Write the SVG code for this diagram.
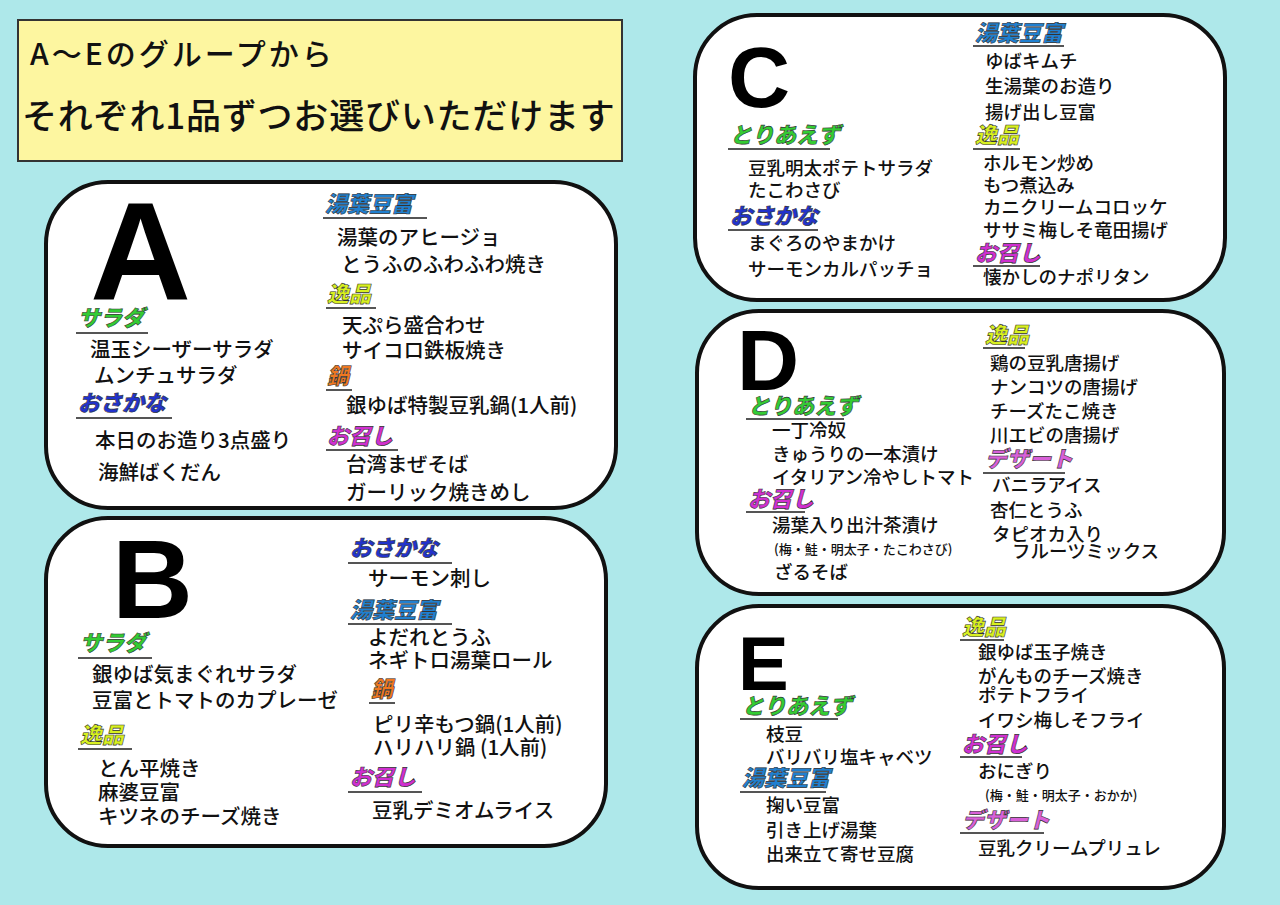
<svg xmlns="http://www.w3.org/2000/svg" width="1280" height="905" viewBox="0 0 1280 905">
<style>
text{font-family:"Noto Sans CJK JP","Noto Sans",sans-serif;fill:#111}
.box{fill:#fff;stroke:#111;stroke-width:4}
.big{font-family:"Liberation Sans",sans-serif;font-weight:bold;fill:#000}
.i{font-size:20.5px;font-weight:500}
.s{font-size:18.5px;font-weight:500}
.xs{font-size:13px;font-weight:500}
.h{font-size:22px;font-weight:900;font-style:italic;stroke:#333;stroke-width:0.6}
.sal{fill:#33cc33}.fish{fill:#2233cc}.yuba{fill:#2080d0}.ipp{fill:#d8f020}.nabe{fill:#f07820}.mesh{fill:#d030d0}.des{fill:#d860d8}
.u{stroke:#555;stroke-width:2}
</style>
<rect width="1280" height="905" fill="#aee8ea"/>
<g id="title">
<rect x="18" y="20" width="604" height="141" fill="#fdf6a0" stroke="#333" stroke-width="2"/>
<text x="30" y="65" font-size="30" font-weight="500" letter-spacing="3">A～Eのグループから</text>
<text x="22" y="129" font-size="35" font-weight="500" letter-spacing="0.8">それぞれ1品ずつお選びいただけます</text>
</g>
<g id="A">
<rect class="box" x="46" y="182" width="570" height="326" rx="62"/>
<text class="big" x="90" y="300" font-size="140">A</text>
<text class="h yuba" x="325" y="212">湯葉豆富</text><line class="u" x1="323" y1="218" x2="427" y2="218"/>
<text class="i" x="337" y="245">湯葉のアヒージョ</text>
<text class="i" x="341" y="272">とうふのふわふわ焼き</text>
<text class="h ipp" x="327" y="302">逸品</text><line class="u" x1="326" y1="308" x2="376" y2="308"/>
<text class="i" x="342" y="333">天ぷら盛合わせ</text>
<text class="i" x="342" y="358">サイコロ鉄板焼き</text>
<text class="h nabe" x="327" y="384">鍋</text><line class="u" x1="326" y1="390" x2="352" y2="390"/>
<text class="i" x="346" y="413">銀ゆば特製豆乳鍋(1人前)</text>
<text class="h mesh" x="327" y="444">お召し</text><line class="u" x1="326" y1="450" x2="398" y2="450"/>
<text class="i" x="346" y="472">台湾まぜそば</text>
<text class="i" x="346" y="500">ガーリック焼きめし</text>
<text class="h sal" x="78" y="326">サラダ</text><line class="u" x1="76" y1="333" x2="148" y2="333"/>
<text class="i" x="90" y="357">温玉シーザーサラダ</text>
<text class="i" x="94" y="383">ムンチュサラダ</text>
<text class="h fish" x="78" y="411">おさかな</text><line class="u" x1="76" y1="418" x2="172" y2="418"/>
<text class="i" x="95" y="448">本日のお造り3点盛り</text>
<text class="i" x="98" y="480">海鮮ばくだん</text>
</g>
<g id="B">
<rect class="box" x="46" y="518" width="560" height="328" rx="62"/>
<text class="big" x="112" y="618" font-size="112">B</text>
<text class="h fish" x="350" y="556">おさかな</text><line class="u" x1="348" y1="563" x2="452" y2="563"/>
<text class="i" x="368" y="586">サーモン刺し</text>
<text class="h yuba" x="350" y="618">湯葉豆富</text><line class="u" x1="348" y1="624" x2="452" y2="624"/>
<text class="i" x="368" y="645">よだれとうふ</text>
<text class="i" x="368" y="668">ネギトロ湯葉ロール</text>
<text class="h nabe" x="371" y="697">鍋</text><line class="u" x1="369" y1="703" x2="395" y2="703"/>
<text class="i" x="373" y="732">ピリ辛もつ鍋(1人前)</text>
<text class="i" x="373" y="755">ハリハリ鍋 (1人前)</text>
<text class="h mesh" x="350" y="785">お召し</text><line class="u" x1="348" y1="792" x2="422" y2="792"/>
<text class="i" x="372" y="818">豆乳デミオムライス</text>
<text class="h sal" x="80" y="651">サラダ</text><line class="u" x1="78" y1="658" x2="152" y2="658"/>
<text class="i" x="92" y="682">銀ゆば気まぐれサラダ</text>
<text class="i" x="92" y="708">豆富とトマトのカプレーゼ</text>
<text class="h ipp" x="80" y="743">逸品</text><line class="u" x1="78" y1="749" x2="132" y2="749"/>
<text class="i" x="98" y="776">とん平焼き</text>
<text class="i" x="98" y="800">麻婆豆富</text>
<text class="i" x="98" y="824">キツネのチーズ焼き</text>
</g>
<g id="C">
<rect class="box" x="695" y="15" width="530" height="285" rx="62"/>
<text class="big" x="728" y="107" font-size="86">C</text>
<text class="h yuba" x="975" y="41" font-size="19">湯葉豆富</text><line class="u" x1="973" y1="46" x2="1064" y2="46"/>
<text class="s" x="985" y="68">ゆばキムチ</text>
<text class="s" x="985" y="93">生湯葉のお造り</text>
<text class="s" x="985" y="119">揚げ出し豆富</text>
<text class="h ipp" x="975" y="143" font-size="19">逸品</text><line class="u" x1="973" y1="149" x2="1020" y2="149"/>
<text class="s" x="983" y="170">ホルモン炒め</text>
<text class="s" x="983" y="192">もつ煮込み</text>
<text class="s" x="983" y="214">カニクリームコロッケ</text>
<text class="s" x="983" y="237">ササミ梅しそ竜田揚げ</text>
<text class="h mesh" x="975" y="261" font-size="19">お召し</text><line class="u" x1="973" y1="266" x2="1040" y2="266"/>
<text class="s" x="983" y="284">懐かしのナポリタン</text>
<text class="h sal" x="730" y="143" font-size="19">とりあえず</text><line class="u" x1="728" y1="149" x2="830" y2="149"/>
<text class="s" x="748" y="175">豆乳明太ポテトサラダ</text>
<text class="s" x="748" y="197">たこわさび</text>
<text class="h fish" x="730" y="224" font-size="19">おさかな</text><line class="u" x1="728" y1="230" x2="818" y2="230"/>
<text class="s" x="748" y="250">まぐろのやまかけ</text>
<text class="s" x="748" y="276">サーモンカルパッチョ</text>
</g>
<g id="D">
<rect class="box" x="697" y="311" width="527" height="283" rx="62"/>
<text class="big" x="737" y="390" font-size="86">D</text>
<text class="h ipp" x="985" y="343" font-size="19">逸品</text><line class="u" x1="983" y1="348" x2="1025" y2="348"/>
<text class="s" x="990" y="370">鶏の豆乳唐揚げ</text>
<text class="s" x="990" y="394">ナンコツの唐揚げ</text>
<text class="s" x="990" y="418">チーズたこ焼き</text>
<text class="s" x="990" y="442">川エビの唐揚げ</text>
<text class="h des" x="985" y="467" font-size="19">デザート</text><line class="u" x1="983" y1="473" x2="1065" y2="473"/>
<text class="s" x="992" y="492">バニラアイス</text>
<text class="s" x="990" y="517">杏仁とうふ</text>
<text class="s" x="992" y="541">タピオカ入り</text>
<text class="s" x="1012" y="558">フルーツミックス</text>
<text class="h sal" x="748" y="414" font-size="19">とりあえず</text><line class="u" x1="746" y1="419" x2="844" y2="419"/>
<text class="s" x="772" y="437">一丁冷奴</text>
<text class="s" x="772" y="461">きゅうりの一本漬け</text>
<text class="s" x="772" y="484">イタリアン冷やしトマト</text>
<text class="h mesh" x="748" y="507" font-size="19">お召し</text><line class="u" x1="746" y1="512" x2="805" y2="512"/>
<text class="s" x="772" y="532">湯葉入り出汁茶漬け</text>
<text class="xs" x="774" y="554">(梅・鮭・明太子・たこわさび)</text>
<text class="s" x="774" y="579">ざるそば</text>
</g>
<g id="E">
<rect class="box" x="697" y="606" width="527" height="282" rx="62"/>
<text class="big" x="738" y="690" font-size="76">E</text>
<text class="h ipp" x="962" y="635" font-size="19">逸品</text><line class="u" x1="960" y1="640" x2="1004" y2="640"/>
<text class="s" x="978" y="659">銀ゆば玉子焼き</text>
<text class="s" x="978" y="683">がんものチーズ焼き</text>
<text class="s" x="978" y="702">ポテトフライ</text>
<text class="s" x="978" y="727">イワシ梅しそフライ</text>
<text class="h mesh" x="962" y="752" font-size="19">お召し</text><line class="u" x1="960" y1="757" x2="1022" y2="757"/>
<text class="s" x="978" y="778">おにぎり</text>
<text class="xs" x="985" y="800">(梅・鮭・明太子・おかか)</text>
<text class="h des" x="962" y="828" font-size="19">デザート</text><line class="u" x1="960" y1="833" x2="1044" y2="833"/>
<text class="s" x="978" y="855">豆乳クリームプリュレ</text>
<text class="h sal" x="742" y="714" font-size="19">とりあえず</text><line class="u" x1="740" y1="719" x2="838" y2="719"/>
<text class="s" x="766" y="741">枝豆</text>
<text class="s" x="766" y="764">バリバリ塩キャベツ</text>
<text class="h yuba" x="742" y="786" font-size="19">湯葉豆富</text><line class="u" x1="740" y1="792" x2="826" y2="792"/>
<text class="s" x="766" y="812">掬い豆富</text>
<text class="s" x="766" y="837">引き上げ湯葉</text>
<text class="s" x="766" y="861">出来立て寄せ豆腐</text>
</g>
</svg>
